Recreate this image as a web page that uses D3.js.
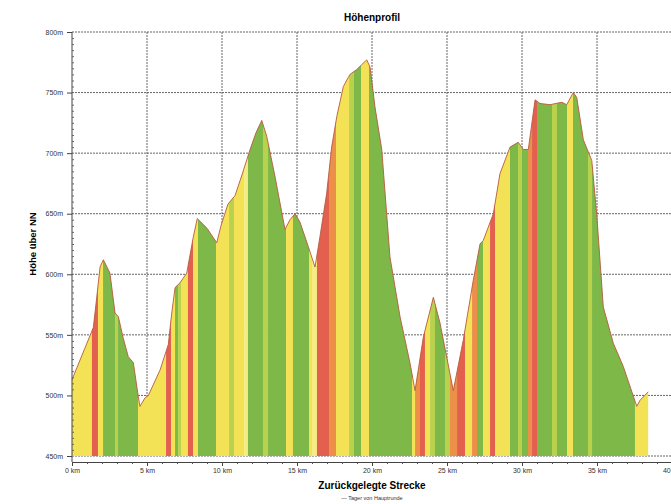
<!DOCTYPE html>
<html>
<head>
<meta charset="utf-8">
<script src="https://cdn.jsdelivr.net/npm/d3@7"></script>
<style>
  body { margin: 0; background: #fff; }
  text { font-family: "Liberation Sans", Arial, sans-serif; }
</style>
</head>
<body>
<div id="chart"></div>
<script>

// elevation profile (km, m)
let distKm = [0, 1.42, 1.65, 1.87, 2.09, 2.53, 2.87, 3.09, 3.4, 3.75, 4.09, 4.42, 4.53, 4.87, 5.09,
  5.87, 6.42, 6.65, 6.87, 7.2, 7.65, 8.09, 8.35, 9.0, 9.65, 9.93, 10.4, 10.87, 11.33, 11.87, 12.27,
  12.65, 12.98, 13.53, 14.2, 14.53, 14.87, 15.2, 15.75, 16.2, 16.53, 16.98, 17.31, 17.65, 18.09,
  18.53, 18.98, 19.31, 19.65, 19.87, 20.2, 20.65, 21.2, 21.87, 22.53, 22.87, 23.42, 24.09, 24.53,
  25.42, 26.09, 26.75, 27.2, 27.42, 28.09, 28.53, 29.2, 29.75, 30.09, 30.42, 30.87, 31.2, 31.87,
  32.65, 32.98, 33.42, 33.65, 34.09, 34.65, 34.98, 35.42, 36.09, 36.75, 37.65, 37.87, 38.42];
let elevM = [513, 556, 581, 606, 612, 601, 568, 565, 548, 532, 527, 499, 491, 498, 500,
  521, 542, 568, 589, 593, 601, 631, 646, 638, 626, 640, 658, 665, 682, 703, 717,
  727, 714, 681, 637, 645, 650, 643, 623, 606, 631, 667, 705, 730, 755,
  765, 769, 773, 777, 771, 738, 703, 614, 565, 527, 504, 548, 581, 560,
  504, 546, 595, 625, 628, 650, 683, 705, 709, 703, 703, 744, 741, 740,
  742, 740, 750, 746, 711, 694, 650, 573, 543, 524, 491, 496, 503];

// coloured gradient stripes: breaks (km) and class of each stripe
let stripeBreaks = [0, 1.33, 1.73, 2.07, 2.87, 3.07, 4.4, 6.27, 6.6, 6.87, 7.07, 7.27, 7.73, 8.07,
  8.4, 9.6, 10.47, 10.8, 11.47, 11.73, 12.73, 13.07, 14.27, 14.73, 15.8, 16.0, 16.33, 17.13, 17.6,
  18.47, 18.8, 19.27, 19.8, 22.67, 22.87, 23.2, 23.53, 23.87, 24.2, 24.87, 25.2, 25.67, 26.2, 26.67,
  27.0, 27.4, 27.87, 28.2, 29.2, 29.73, 30.0, 30.4, 30.67, 31.0, 32.0, 32.33, 33.0, 33.4, 34.4,
  34.67, 37.53, 38.42];
let stripeClass = ["Y", "R", "Y", "G", "YG", "G", "Y", "R", "Y", "G", "YG", "Y", "R", "Y", "G",
  "Y", "YG", "Y", "L", "G", "YG", "G", "Y", "G", "Y", "L", "R", "O", "Y", "YG", "G", "Y", "G",
  "Y", "O", "R", "Y", "YG", "G", "YG", "O", "R", "Y", "O", "G", "Y", "R", "Y", "G", "YG", "G",
  "O", "R", "G", "YG", "G", "Y", "G", "YG", "G", "Y"];

let classColor = { Y: "#f4e256", L: "#f6ec86", G: "#7db848", YG: "#b9d24e", R: "#e3604e", O: "#ec9049" };

let yTicks = [450, 500, 550, 600, 650, 700, 750, 800];
let xTicks = [0, 5, 10, 15, 20, 25, 30, 35, 40];

let margin = { top: 32, right: 0, bottom: 48, left: 72 };
let width = 600;
let height = 424;

let x = d3.scaleLinear().domain([0, 40]).range([0, width]);
let y = d3.scaleLinear().domain([450, 800]).range([height, 0]);

let svg = d3.select("#chart")
  .append("svg")
    .attr("width", 671)
    .attr("height", 504)
  .append("g")
    .attr("transform", `translate(${margin.left},${margin.top})`);

// grid lines (behind the profile)

svg.selectAll(".yGrid")
  .data(yTicks)
  .join("line")
  .attr("x1", 0)
  .attr("x2", width)
  .attr("y1", d => y(d))
  .attr("y2", d => y(d))
  .attr("stroke", "#555")
  .attr("stroke-width", 0.9)
  .attr("stroke-dasharray", "2,1");

svg.selectAll(".xGrid")
  .data(xTicks.slice(1))
  .join("line")
  .attr("x1", d => x(d))
  .attr("x2", d => x(d))
  .attr("y1", 0)
  .attr("y2", height)
  .attr("stroke", "#555")
  .attr("stroke-width", 0.9)
  .attr("stroke-dasharray", "2,1");

// profile area used as clip for the stripes

let profile = distKm.map((d, i) => ({ km: d, elev: elevM[i] }));

let area = d3.area()
  .x(d => x(d.km))
  .y0(y(450))
  .y1(d => y(d.elev));

svg.append("clipPath")
  .attr("id", "profileClip")
  .append("path")
  .attr("d", area(profile));

let stripes = stripeClass.map((c, i) => ({ from: stripeBreaks[i], to: stripeBreaks[i + 1], c: c }));

svg.append("g")
  .attr("clip-path", "url(#profileClip)")
  .selectAll("rect")
  .data(stripes)
  .join("rect")
  .attr("x", d => x(d.from))
  .attr("width", d => x(d.to) - x(d.from) + 0.3)
  .attr("y", 0)
  .attr("height", height)
  .attr("fill", d => classColor[d.c]);

let line = d3.line()
  .x(d => x(d.km))
  .y(d => y(d.elev));

svg.append("path")
  .datum(profile)
  .attr("fill", "none")
  .attr("stroke", "#b55a3e")
  .attr("stroke-width", 0.9)
  .attr("d", line);

// y axis with minor ticks

svg.append("g")
  .call(d3.axisLeft(y)
    .tickValues(yTicks)
    .tickSize(5)
    .tickPadding(4)
    .tickFormat(d => d + "m"))
  .call(g => g.select(".domain").attr("stroke", "#444").attr("d", `M0,0V${height + 6}`))
  .call(g => g.selectAll(".tick line").attr("stroke", "#444"))
  .selectAll(".tick text")
  .style("font-size", "7px")
  .attr("fill", "#333");

svg.append("g")
  .call(d3.axisRight(y)
    .tickValues(d3.range(455, 800, 5).filter(d => d % 50 !== 0))
    .tickSize(2)
    .tickFormat(""))
  .call(g => g.select(".domain").remove())
  .selectAll(".tick line")
  .attr("stroke", "#666");

// x axis, a little below the plot

svg.append("g")
  .attr("transform", `translate(0,${height + 6})`)
  .call(d3.axisBottom(x)
    .tickValues(xTicks)
    .tickSize(4)
    .tickPadding(2)
    .tickFormat(d => d + " km"))
  .call(g => g.select(".domain").attr("stroke", "#444"))
  .call(g => g.selectAll(".tick line").attr("stroke", "#444"))
  .selectAll(".tick text")
  .style("font-size", "7px")
  .attr("fill", "#333");

svg.append("g")
  .attr("transform", `translate(0,${height + 6})`)
  .call(d3.axisBottom(x)
    .tickValues(d3.range(1, 40).filter(d => d % 5 !== 0))
    .tickSize(2)
    .tickFormat(""))
  .call(g => g.select(".domain").remove())
  .selectAll(".tick line")
  .attr("stroke", "#555");

// titles

svg.append("text")
  .attr("x", width / 2)
  .attr("y", -11)
  .attr("text-anchor", "middle")
  .style("font-size", "10px")
  .style("font-weight", "bold")
  .text("Höhenprofil");

svg.append("text")
  .attr("transform", "rotate(-90)")
  .attr("x", -212)
  .attr("y", -36)
  .attr("text-anchor", "middle")
  .style("font-size", "9.5px")
  .style("font-weight", "bold")
  .text("Höhe über NN");

svg.append("text")
  .attr("x", width / 2)
  .attr("y", height + 33)
  .attr("text-anchor", "middle")
  .style("font-size", "10px")
  .style("font-weight", "bold")
  .text("Zurückgelegte Strecke");

svg.append("text")
  .attr("x", width / 2)
  .attr("y", height + 44)
  .attr("text-anchor", "middle")
  .style("font-size", "5.5px")
  .attr("fill", "#333")
  .text("— Tager von Hauptrunde");

</script>
</body>
</html>
